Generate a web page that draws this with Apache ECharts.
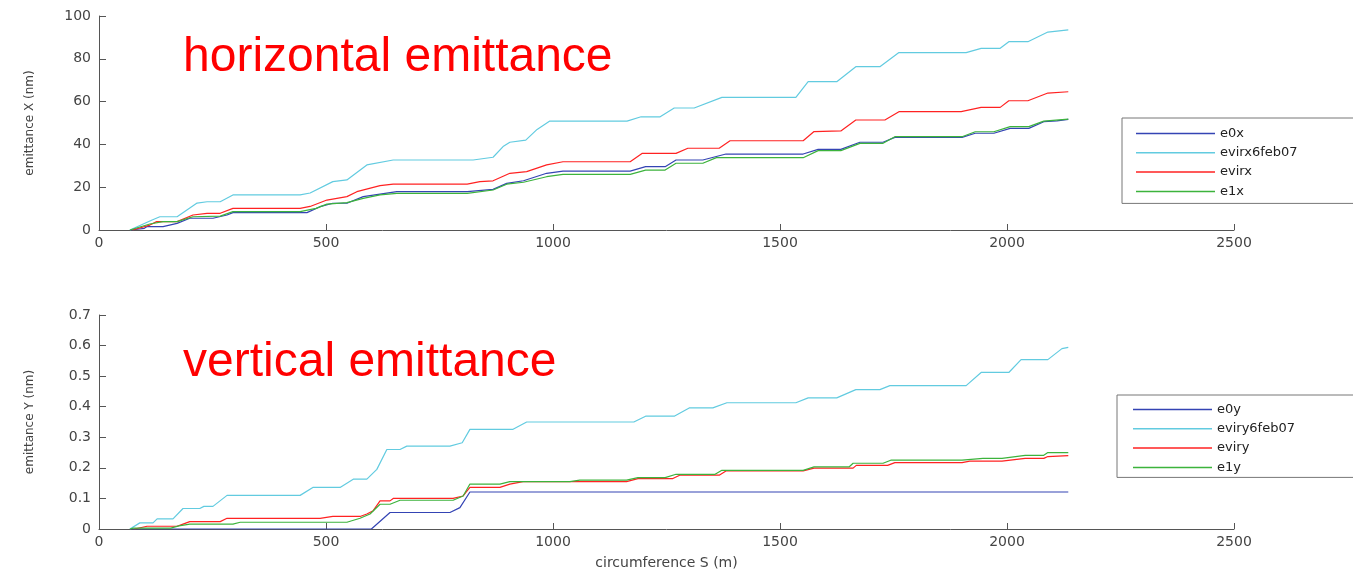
<!DOCTYPE html>
<html>
<head>
<meta charset="utf-8">
<script src="https://cdn.jsdelivr.net/npm/echarts@6.0.0/dist/echarts.min.js"></script>
<style>
html,body{margin:0;padding:0;background:#fff;}
#chart{width:1353px;height:571px;}
</style>
</head>
<body>
<div id="chart"></div>
<script>
// ---- tick settings (axis labels) ----
const xTicks = [0, 500, 1000, 1500, 2000, 2500];
const yTicksX = [0, 20, 40, 60, 80, 100];
const yTicksY = [0, 0.1, 0.2, 0.3, 0.4, 0.5, 0.6, 0.7];

// ---- series names ----
const namesX = ['e0x', 'evirx6feb07', 'evirx', 'e1x'];
const namesY = ['e0y', 'eviry6feb07', 'eviry', 'e1y'];

// ---- horizontal emittance [S (m), emittance (nm)] ----
const e0x = [[70,0],[100,0.8],[106,1.6],[141,1.6],[172,3.1],[200,5.5],[251,5.5],[282,7],[295,8.1],[458,8.1],[487,10.9],[515,12.5],[546,12.5],[582,15.6],[619,16.8],[656,17.9],[811,17.9],[868,19],[898,21.8],[935,23],[986,26.5],[1022,27.5],[1170,27.5],[1204,29.6],[1247,29.6],[1271,32.7],[1330,32.7],[1381,35.5],[1551,35.5],[1584,37.7],[1634,37.7],[1676,41],[1727,41],[1753,43.3],[1901,43.3],[1930,45.2],[1971,45.2],[2007,47.5],[2048,47.5],[2081,50.6],[2110,51],[2135,51.7]];
const evirx6feb07 = [[68,0],[117,4.7],[134,6.2],[172,6.2],[216,12.6],[238,13.2],[267,13.2],[295,16.4],[443,16.4],[465,17.3],[515,22.6],[546,23.4],[590,30.4],[648,32.7],[824,32.7],[868,34],[890,39],[905,41],[940,42],[965,47],[993,50.9],[1163,50.9],[1194,52.9],[1236,52.9],[1267,57],[1311,57],[1372,62],[1535,62],[1562,69.3],[1625,69.3],[1667,76.3],[1720,76.3],[1762,82.9],[1910,82.9],[1943,84.9],[1985,84.9],[2004,88],[2046,88],[2090,92.5],[2135,93.5]];
const evirx = [[74,0],[112,2.3],[127,3.9],[172,3.9],[207,7],[238,7.8],[267,7.8],[295,10.1],[443,10.1],[465,11],[502,14],[546,15.6],[568,17.9],[619,20.7],[648,21.4],[811,21.4],[839,22.6],[868,23],[905,26.5],[942,27.3],[986,30.4],[1022,31.9],[1170,31.9],[1196,35.8],[1271,35.8],[1297,38.2],[1366,38.2],[1390,41.7],[1551,41.7],[1575,46],[1634,46.3],[1667,51.4],[1731,51.4],[1762,55.3],[1899,55.3],[1943,57.3],[1985,57.3],[2004,60.4],[2046,60.4],[2090,64],[2135,64.6]];
const e1x = [[68,0],[112,2.8],[141,3.9],[172,3.9],[207,6.2],[267,6.5],[295,8.6],[443,8.6],[478,10.1],[502,12.1],[546,12.8],[582,14.8],[619,16.4],[656,17.1],[811,17.1],[868,18.7],[898,21.4],[935,22.3],[986,24.9],[1022,26],[1170,26],[1204,28],[1247,28],[1271,31.2],[1330,31.2],[1360,33.8],[1551,33.8],[1584,37.1],[1634,37.1],[1676,40.5],[1727,40.5],[1753,43.6],[1901,43.6],[1930,45.9],[1971,45.9],[2007,48.3],[2048,48.3],[2081,50.9],[2135,51.8]];

// ---- vertical emittance [S (m), emittance (nm)] ----
const e0y = [[70,0],[600,0],[641,0.054],[773,0.054],[795,0.07],[817,0.121],[2135,0.121]];
const eviry6feb07 = [[68,0],[90,0.02],[119,0.02],[128,0.033],[163,0.033],[185,0.067],[222,0.067],[231,0.074],[251,0.074],[282,0.11],[443,0.11],[471,0.136],[531,0.136],[560,0.163],[590,0.163],[612,0.195],[634,0.26],[663,0.26],[678,0.271],[773,0.271],[800,0.282],[817,0.326],[912,0.326],[942,0.35],[1178,0.35],[1204,0.369],[1267,0.369],[1300,0.396],[1352,0.396],[1383,0.413],[1535,0.413],[1562,0.429],[1625,0.429],[1667,0.456],[1720,0.456],[1742,0.469],[1910,0.469],[1943,0.512],[2004,0.512],[2031,0.554],[2090,0.554],[2121,0.59],[2135,0.594]];
const eviry = [[78,0],[106,0.009],[172,0.009],[185,0.016],[200,0.024],[267,0.024],[282,0.035],[487,0.035],[515,0.041],[575,0.041],[590,0.049],[604,0.06],[619,0.092],[641,0.092],[648,0.1],[780,0.1],[802,0.108],[817,0.136],[883,0.136],[905,0.147],[934,0.155],[1162,0.155],[1187,0.165],[1264,0.165],[1279,0.176],[1366,0.176],[1381,0.19],[1551,0.19],[1575,0.199],[1661,0.199],[1668,0.208],[1737,0.208],[1753,0.217],[1901,0.217],[1918,0.222],[1989,0.222],[2040,0.231],[2081,0.231],[2090,0.237],[2135,0.24]];
const e1y = [[68,0],[76,0.003],[158,0.003],[176,0.01],[200,0.016],[295,0.016],[311,0.022],[546,0.022],[575,0.035],[597,0.049],[619,0.081],[641,0.081],[663,0.094],[780,0.094],[802,0.108],[817,0.147],[883,0.147],[905,0.155],[1037,0.155],[1059,0.16],[1162,0.16],[1187,0.168],[1247,0.168],[1271,0.179],[1357,0.179],[1372,0.192],[1551,0.192],[1575,0.203],[1652,0.203],[1661,0.215],[1727,0.215],[1744,0.225],[1901,0.225],[1947,0.231],[1989,0.231],[2040,0.241],[2081,0.241],[2090,0.25],[2135,0.25]];

const colors = ['#3444b4', '#62cbe0', '#ff2222', '#3cb33c'];

const chart = echarts.init(document.getElementById('chart'), null, {renderer: 'canvas'});

function mkSeries(name, data, color, idx) {
  return {
    name: name, type: 'line', data: data,
    xAxisIndex: idx, yAxisIndex: idx,
    symbol: 'none', showSymbol: false,
    lineStyle: {color: color, width: 1.2},
    itemStyle: {color: color},
    animation: false, z: 3
  };
}

const tickFont = {fontFamily: 'DejaVu Sans', fontSize: 14, color: '#444'};
function xAxisCfg(idx, withName) {
  return {
    type: 'value', gridIndex: idx,
    min: xTicks[0], max: xTicks[xTicks.length - 1], interval: xTicks[1] - xTicks[0],
    axisLine: {show: true, lineStyle: {color: '#555', width: 1}},
    axisTick: {show: true, inside: true, length: 6, lineStyle: {color: '#555'}},
    axisLabel: Object.assign({margin: 6, formatter: v => String(v)}, tickFont),
    splitLine: {show: false},
    name: withName ? 'circumference S (m)' : '',
    nameLocation: 'middle', nameGap: 27,
    nameTextStyle: {fontFamily: 'DejaVu Sans', fontSize: 14, color: '#444'}
  };
}
function yAxisCfg(idx, ticks, name) {
  return {
    type: 'value', gridIndex: idx,
    min: ticks[0], max: ticks[ticks.length - 1],
    interval: Math.round((ticks[1] - ticks[0]) * 1000) / 1000,
    axisLine: {show: true, lineStyle: {color: '#555', width: 1}},
    axisTick: {show: true, inside: true, length: 7, lineStyle: {color: '#555'}},
    axisLabel: Object.assign({margin: 8, formatter: v => String(Math.round(v * 1000) / 1000)}, tickFont),
    splitLine: {show: false},
    name: name, nameLocation: 'middle', nameGap: 63, nameRotate: 90,
    nameTextStyle: {fontFamily: 'DejaVu Sans', fontSize: 12, color: '#444'}
  };
}

const legendText = {fontFamily: 'DejaVu Sans', fontSize: 13, color: '#222'};

const option = {
  backgroundColor: '#ffffff',
  animation: false,
  title: [
    {text: 'horizontal emittance', left: 178, top: 29,
     textStyle: {color: '#ff0000', fontSize: 48, fontWeight: 'normal', fontFamily: 'Liberation Sans'}},
    {text: 'vertical emittance', left: 178, top: 334,
     textStyle: {color: '#ff0000', fontSize: 48, fontWeight: 'normal', fontFamily: 'Liberation Sans'}}
  ],
  grid: [
    {left: 99, right: 119, top: 16, height: 214},
    {left: 99, right: 119, top: 315, height: 215}
  ],
  xAxis: [xAxisCfg(0, false), xAxisCfg(1, true)],
  yAxis: [yAxisCfg(0, yTicksX, 'emittance X (nm)'), yAxisCfg(1, yTicksY, 'emittance Y (nm)')],
  legend: [
    {data: namesX, orient: 'vertical', left: 1122, top: 118,
     icon: 'rect', itemWidth: 79, itemHeight: 1.5, itemGap: 6.3,
     padding: [9, 70, 5.5, 14],
     borderColor: '#777', borderWidth: 1, backgroundColor: '#fff',
     textStyle: legendText, selectedMode: false},
    {data: namesY, orient: 'vertical', left: 1117, top: 395,
     icon: 'rect', itemWidth: 79, itemHeight: 1.5, itemGap: 6.3,
     padding: [8, 70, 3.5, 16],
     borderColor: '#777', borderWidth: 1, backgroundColor: '#fff',
     textStyle: legendText, selectedMode: false}
  ],
  series: [
    mkSeries(namesX[0], e0x, colors[0], 0),
    mkSeries(namesX[1], evirx6feb07, colors[1], 0),
    mkSeries(namesX[2], evirx, colors[2], 0),
    mkSeries(namesX[3], e1x, colors[3], 0),
    mkSeries(namesY[0], e0y, colors[0], 1),
    mkSeries(namesY[1], eviry6feb07, colors[1], 1),
    mkSeries(namesY[2], eviry, colors[2], 1),
    mkSeries(namesY[3], e1y, colors[3], 1)
  ]
};
chart.setOption(option);
</script>
</body>
</html>
